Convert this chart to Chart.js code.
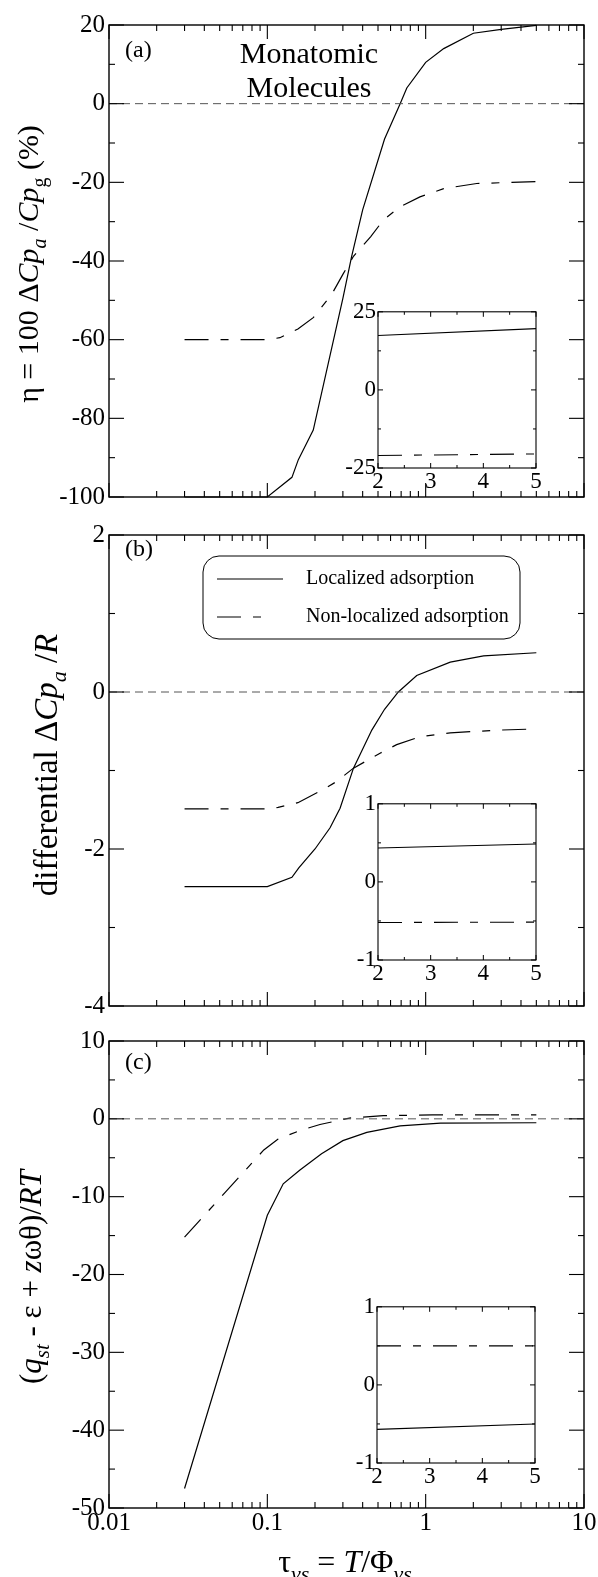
<!DOCTYPE html>
<html><head><meta charset="utf-8">
<script src="https://cdn.jsdelivr.net/npm/chart.js@4/dist/chart.umd.min.js"></script>
<style>
html,body{margin:0;padding:0;background:#fff;}
#wrap{position:relative;width:598px;height:1577px;overflow:hidden;background:#fff;}
canvas{position:absolute;}
</style></head>
<body><div id="wrap">
<canvas id="ca"></canvas><canvas id="cb"></canvas><canvas id="cc"></canvas>
<canvas id="ia"></canvas><canvas id="ib"></canvas><canvas id="ic"></canvas>
</div>
<script>
// ---------------- DATA ----------------
// (a) eta = 100 dCp_a/Cp_g (%)
const tauA_loc = [0.03, 0.1, 0.143, 0.157, 0.195, 0.3, 0.34, 0.4, 0.55, 0.69, 0.76, 1.0, 1.3, 2.0, 3.0, 5.0];
const etaA_loc = [-100, -100, -95, -90.5, -83, -49.5, -39, -27, -9, 0, 4, 10.5, 14, 17.9, 18.9, 19.9];
const tauA_non = [0.03, 0.1, 0.12, 0.156, 0.195, 0.255, 0.3, 0.35, 0.45, 0.54, 0.69, 0.92, 1.3, 2.1, 5.0];
const etaA_non = [-60, -60, -59.5, -57.3, -54.4, -48.5, -43.4, -38.8, -33.8, -29.6, -26.2, -23.7, -21.6, -20.3, -19.8];
// (b) differential dCp_a/R
const tauB_loc = [0.03, 0.1, 0.143, 0.158, 0.2, 0.249, 0.288, 0.35, 0.457, 0.55, 0.672, 0.878, 1.43, 2.32, 5.0];
const cpB_loc  = [-2.48, -2.48, -2.36, -2.24, -2.0, -1.73, -1.48, -0.97, -0.485, -0.22, 0, 0.21, 0.38, 0.46, 0.5];
const tauB_non = [0.03, 0.1, 0.117, 0.156, 0.226, 0.274, 0.35, 0.515, 0.656, 0.92, 1.43, 2.95, 5.0];
const cpB_non  = [-1.49, -1.49, -1.47, -1.41, -1.24, -1.14, -0.97, -0.78, -0.67, -0.57, -0.52, -0.485, -0.47];
// (c) (q_st - eps + z omega theta)/RT
const tauC_loc = [0.03, 0.1, 0.126, 0.16, 0.22, 0.3, 0.425, 0.69, 1.24, 5.0];
const qC_loc   = [-47.5, -12.4, -8.35, -6.6, -4.5, -2.8, -1.75, -0.9, -0.56, -0.5];
const tauC_non = [0.03, 0.095, 0.117, 0.161, 0.215, 0.33, 0.54, 1.1, 5.0];
const qC_non   = [-15.2, -4.0, -2.6, -1.5, -0.73, 0.1, 0.4, 0.5, 0.5];
// insets (tau from 2 to 5)
const insetTau   = [2, 5];
const insetA_loc = [17.4, 19.6];
const insetA_non = [-21.0, -20.5];
const insetB_loc = [0.434, 0.485];
const insetB_non = [-0.52, -0.515];
const insetC_loc = [-0.57, -0.5];
const insetC_non = [0.5, 0.5];
// zero reference line
const zeroTau = [0.01, 10];
const zeroVal = [0, 0];
// ticks
const xTickVals   = [0.01, 0.1, 1, 10];
const xTickLabels = ['0.01', '0.1', '1', '10'];
const yTicksA = [20, 0, -20, -40, -60, -80, -100];
const yMinorA = [10, -10, -30, -50, -70, -90];
const yTicksB = [2, 0, -2, -4];
const yMinorB = [1, -1, -3];
const yTicksC = [10, 0, -10, -20, -30, -40, -50];
const yMinorC = [5, -5, -15, -25, -35, -45];
const insetXTicks = [2, 3, 4, 5];
const insetXMinor = [2.5, 3.5, 4.5];
const insetYTicksA = [25, 0, -25];
const insetYMinorA = [12.5, -12.5];
const insetYTicksB = [1, 0, -1];
const insetYMinorB = [0.5, -0.5];
const seriesNames = ['Localized adsorption', 'Non-localized adsorption'];

// ---------------- helpers ----------------
const SERIF = "'Liberation Serif', 'DejaVu Serif', serif";
const NONLOC_DASH = [24, 12, 8, 12];
const logMinor = [];
[0.01, 0.1, 1].forEach(d => { for (let k = 2; k <= 9; k++) logMinor.push(d * k); });

function pts(xs, ys) { return xs.map((x, i) => ({ x: x, y: ys[i] })); }
function series(label, xs, ys, dash, w, color) {
  return { label: label, data: pts(xs, ys), borderColor: color || '#000', borderWidth: w,
           borderDash: dash, pointRadius: 0, fill: false, tension: 0, clip: 8 };
}

function drawRich(ctx, segs, cx, cy, rot, size) {
  ctx.save();
  ctx.translate(cx, cy);
  if (rot) ctx.rotate(-Math.PI / 2);
  const fontOf = s => (s.i ? 'italic ' : '') + Math.round(size * (s.sub ? 0.68 : 1)) + 'px ' + SERIF;
  let w = 0;
  segs.forEach(s => { ctx.font = fontOf(s); w += ctx.measureText(s.t).width; });
  let x = -w / 2;
  ctx.fillStyle = '#000'; ctx.textAlign = 'left'; ctx.textBaseline = 'alphabetic';
  segs.forEach(s => {
    ctx.font = fontOf(s);
    ctx.fillText(s.t, x, s.sub ? size * 0.27 : 0);
    x += ctx.measureText(s.t).width;
  });
  ctx.restore();
}

function deco(o) {
  return {
    id: 'deco_' + o.id,
    afterDatasetsDraw(chart) {
      const ctx = chart.ctx, a = chart.chartArea, xs = chart.scales.x, ys = chart.scales.y;
      ctx.save();
      ctx.strokeStyle = '#000';
      ctx.lineWidth = o.frameW;
      ctx.strokeRect(a.left, a.top, a.right - a.left, a.bottom - a.top);
      ctx.lineWidth = o.tickW;
      const seg = (x1, y1, x2, y2) => { ctx.beginPath(); ctx.moveTo(x1, y1); ctx.lineTo(x2, y2); ctx.stroke(); };
      [[o.yMajor, o.yMajLen], [o.yMinor, o.yMinLen]].forEach(([vals, len]) => vals.forEach(v => {
        const p = ys.getPixelForValue(v);
        seg(a.left, p, a.left + len, p); seg(a.right, p, a.right - len, p);
      }));
      [[o.xMajor, o.xMajLen], [o.xMinor, o.xMinLen]].forEach(([vals, len]) => vals.forEach(v => {
        const p = xs.getPixelForValue(v);
        seg(p, a.top, p, a.top + len); seg(p, a.bottom, p, a.bottom - len);
      }));
      (o.texts || []).forEach(t => {
        ctx.font = (t.i ? 'italic ' : '') + t.size + 'px ' + SERIF;
        ctx.fillStyle = '#000'; ctx.textAlign = t.align || 'left'; ctx.textBaseline = 'alphabetic';
        ctx.fillText(t.t, t.x - o.left, t.y - o.top);
      });
      (o.rich || []).forEach(r => drawRich(ctx, r.segs, r.x - o.left, r.y - o.top, r.rot, r.size));
      if (o.legend) {
        const L = o.legend;
        const x1 = L.x1 - o.left, y1 = L.y1 - o.top, x2 = L.x2 - o.left, y2 = L.y2 - o.top;
        ctx.lineWidth = 1; ctx.strokeStyle = '#000';
        ctx.beginPath();
        ctx.roundRect(x1, y1, x2 - x1, y2 - y1, L.r);
        ctx.stroke();
        L.items.forEach(it => {
          const d = chart.data.datasets[it.ds];
          const yy = it.y - o.top;
          ctx.save();
          ctx.lineWidth = d.borderWidth; ctx.setLineDash(d.borderDash || []);
          ctx.beginPath(); ctx.moveTo(L.lx1 - o.left, yy); ctx.lineTo(it.lx2 - o.left, yy); ctx.stroke();
          ctx.restore();
          ctx.font = L.size + 'px ' + SERIF; ctx.fillStyle = '#000';
          ctx.textAlign = 'left'; ctx.textBaseline = 'middle';
          ctx.fillText(d.label, L.tx - o.left, yy);
        });
      }
      ctx.restore();
    }
  };
}

function makeChart(o) {
  const cv = document.getElementById(o.id);
  cv.width = o.w; cv.height = o.h;
  cv.style.left = o.left + 'px'; cv.style.top = o.top + 'px';
  cv.style.width = o.w + 'px'; cv.style.height = o.h + 'px';
  const yW = o.area.left - o.left;
  const padR = o.left + o.w - o.area.right;
  const padT = o.area.top - o.top;
  const xH = o.top + o.h - o.area.bottom;
  return new Chart(cv, {
    type: 'line',
    data: { datasets: o.datasets },
    options: {
      responsive: false, animation: false, devicePixelRatio: 1,
      layout: { padding: { left: 0, right: padR, top: padT, bottom: 0 } },
      plugins: { legend: { display: false }, tooltip: { enabled: false } },
      scales: {
        x: {
          type: o.xType, min: o.xMin, max: o.xMax,
          grid: { display: false, drawTicks: false }, border: { display: false },
          afterBuildTicks: s => { s.ticks = o.xMajor.map(v => ({ value: v })); },
          afterFit: s => { s.height = xH; },
          ticks: { display: !!o.xLabels, autoSkip: false, maxRotation: 0, minRotation: 0,
                   padding: o.xPad, color: '#000', font: { family: SERIF, size: o.fs },
                   callback: (v, i) => (o.xLabels ? o.xLabels[i] : '') }
        },
        y: {
          type: 'linear', min: o.yMin, max: o.yMax,
          grid: { display: false, drawTicks: false }, border: { display: false },
          afterBuildTicks: s => { s.ticks = o.yMajor.map(v => ({ value: v })); },
          afterFit: s => { s.width = yW; },
          ticks: { autoSkip: false, padding: o.yPad, color: '#000', font: { family: SERIF, size: o.fs },
                   callback: (v, i) => o.yLabels[i] }
        }
      }
    },
    plugins: [deco(o)]
  });
}

const mainCommon = {
  w: 598, left: 0, xType: 'logarithmic', xMin: 0.01, xMax: 10,
  xMajor: xTickVals, xMinor: logMinor, fs: 25, xPad: 0, yPad: 4,
  frameW: 1.4, tickW: 1.1, yMajLen: 15, yMinLen: 6, xMajLen: 14, xMinLen: 6
};
const insetCommon = {
  w: 218, left: 336, h: 204, xType: 'linear', xMin: 2, xMax: 5,
  xMajor: insetXTicks, xMinor: insetXMinor, xLabels: insetXTicks.map(String), fs: 23, xPad: 0, yPad: 2,
  frameW: 1.1, tickW: 1, yMajLen: 5, yMinLen: 3, xMajLen: 5, xMinLen: 3
};

// (a)
makeChart(Object.assign({}, mainCommon, {
  id: 'ca', top: 0, h: 516, area: { left: 109, right: 584, top: 25, bottom: 501 },
  yMin: -100, yMax: 20, yMajor: yTicksA, yMinor: yMinorA, yLabels: yTicksA.map(String), xLabels: null,
  datasets: [
    series('zero', zeroTau, zeroVal, [8, 5], 1, '#555'),
    series(seriesNames[0], tauA_loc, etaA_loc, [], 1.2),
    series(seriesNames[1], tauA_non, etaA_non, NONLOC_DASH, 1.2)
  ],
  texts: [
    { t: '(a)', x: 125, y: 57, size: 24 },
    { t: 'Monatomic', x: 309, y: 63, size: 30, align: 'center' },
    { t: 'Molecules', x: 309, y: 97, size: 30, align: 'center' }
  ],
  rich: [
    { segs: [{ t: 'η = 100 Δ' }, { t: 'Cp', i: 1 }, { t: 'a', i: 1, sub: 1 }, { t: ' /' }, { t: 'Cp', i: 1 }, { t: 'g', sub: 1 }, { t: ' (%)' }],
      x: 38, y: 264, rot: true, size: 30 }
  ]
}));

// (b)
makeChart(Object.assign({}, mainCommon, {
  id: 'cb', top: 516, h: 516, area: { left: 109, right: 584, top: 532, bottom: 1006 },
  yMin: -4, yMax: 2, yMajor: yTicksB, yMinor: yMinorB, yLabels: yTicksB.map(String), xLabels: null,
  datasets: [
    series('zero', zeroTau, zeroVal, [8, 5], 1, '#555'),
    series(seriesNames[0], tauB_loc, cpB_loc, [], 1.2),
    series(seriesNames[1], tauB_non, cpB_non, NONLOC_DASH, 1.2)
  ],
  texts: [{ t: '(b)', x: 125, y: 556, size: 24 }],
  rich: [
    { segs: [{ t: 'differential Δ' }, { t: 'Cp', i: 1 }, { t: 'a', i: 1, sub: 1 }, { t: ' /' }, { t: 'R', i: 1 }],
      x: 57, y: 765, rot: true, size: 33 }
  ],
  legend: { x1: 203, y1: 556, x2: 520, y2: 639, r: 16, lx1: 217, tx: 306, size: 20,
            items: [{ ds: 1, y: 579, lx2: 283 }, { ds: 2, y: 617, lx2: 270 }] }
}));

// (c)
makeChart(Object.assign({}, mainCommon, {
  id: 'cc', top: 1022, h: 555, area: { left: 109, right: 584, top: 1038, bottom: 1508 },
  yMin: -50, yMax: 10, yMajor: yTicksC, yMinor: yMinorC, yLabels: yTicksC.map(String), xLabels: xTickLabels,
  datasets: [
    series('zero', zeroTau, zeroVal, [8, 5], 1, '#555'),
    series(seriesNames[0], tauC_loc, qC_loc, [], 1.2),
    series(seriesNames[1], tauC_non, qC_non, NONLOC_DASH, 1.2)
  ],
  texts: [{ t: '(c)', x: 125, y: 1069, size: 24 }],
  rich: [
    { segs: [{ t: '(' }, { t: 'q', i: 1 }, { t: 'st', i: 1, sub: 1 }, { t: ' - ε + ' }, { t: 'z', i: 1 }, { t: 'ωθ)/' }, { t: 'RT', i: 1 }],
      x: 41, y: 1277, rot: true, size: 31 },
    { segs: [{ t: 'τ' }, { t: 'vs', i: 1, sub: 1 }, { t: ' = ' }, { t: 'T', i: 1 }, { t: '/Φ' }, { t: 'vs', i: 1, sub: 1 }],
      x: 345, y: 1572, rot: false, size: 32 }
  ]
}));

// insets
makeChart(Object.assign({}, insetCommon, {
  id: 'ia', top: 296, area: { left: 378, right: 536, top: 310, bottom: 468 },
  yMin: -25, yMax: 25, yMajor: insetYTicksA, yMinor: insetYMinorA, yLabels: insetYTicksA.map(String),
  datasets: [
    series(seriesNames[0], insetTau, insetA_loc, [], 1.1),
    series(seriesNames[1], insetTau, insetA_non, NONLOC_DASH, 1.1)
  ]
}));
makeChart(Object.assign({}, insetCommon, {
  id: 'ib', top: 788, area: { left: 378, right: 536, top: 802, bottom: 960 },
  yMin: -1, yMax: 1, yMajor: insetYTicksB, yMinor: insetYMinorB, yLabels: insetYTicksB.map(String),
  datasets: [
    series(seriesNames[0], insetTau, insetB_loc, [], 1.1),
    series(seriesNames[1], insetTau, insetB_non, NONLOC_DASH, 1.1)
  ]
}));
makeChart(Object.assign({}, insetCommon, {
  id: 'ic', top: 1291, left: 335, area: { left: 377, right: 535, top: 1305, bottom: 1463 },
  yMin: -1, yMax: 1, yMajor: insetYTicksB, yMinor: insetYMinorB, yLabels: insetYTicksB.map(String),
  datasets: [
    series(seriesNames[0], insetTau, insetC_loc, [], 1.1),
    series(seriesNames[1], insetTau, insetC_non, NONLOC_DASH, 1.1)
  ]
}));
</script>
</body></html>
